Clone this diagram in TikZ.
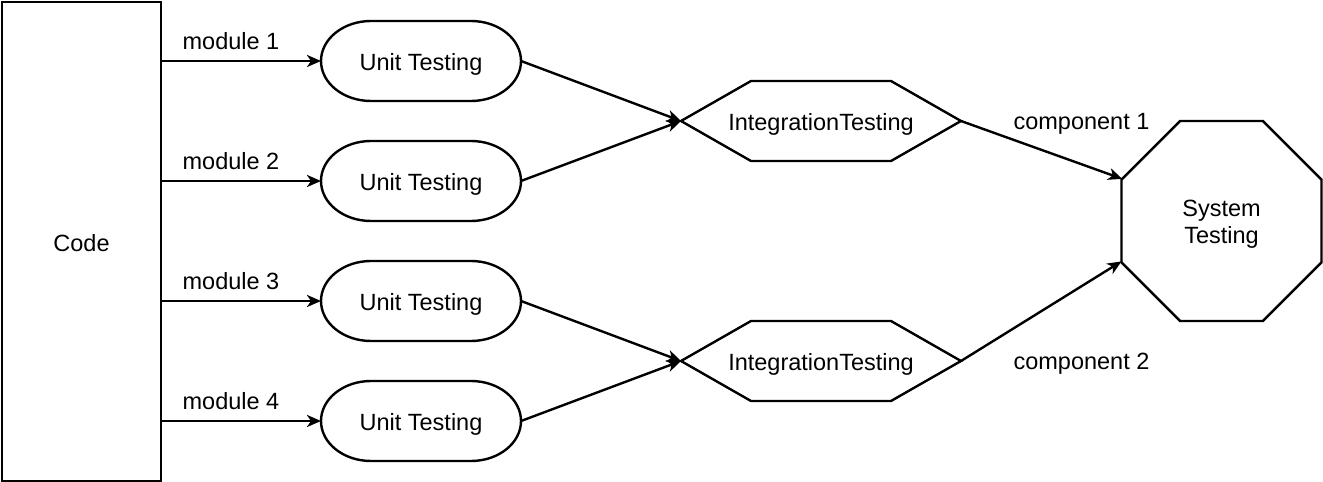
\documentclass[tikz,border=0pt]{standalone}
\usepackage{fontspec}
\setmainfont{Liberation Sans}
\usetikzlibrary{arrows.meta,shapes.geometric,calc}
\begin{document}
\begin{tikzpicture}[x=1pt,y=1pt,
  every node/.style={font=\fontsize{23.5}{27}\selectfont},
  shp/.style={draw=black,line width=2.4pt},
  box/.style={inner sep=0pt,outer sep=0pt,text height=19.9pt,text depth=0.5pt},
  conn/.style={line width=2.4pt,-{Stealth[length=14pt,width=12pt,inset=4pt]}},
  lbl/.style={anchor=base,inner sep=0pt}]
\useasboundingbox (0,0) rectangle (1323,482);
% Code block
\node[box,draw,line width=2.4pt,minimum width=159pt,minimum height=479pt] (code) at (81.5,240.5) {Code};
% Unit testing terminators
\foreach \n/\y in {1/421,2/301,3/181,4/61} {
  \node[box,minimum width=200pt,minimum height=80pt] (u\n) at (421,\y) {Unit Testing};
  \draw[shp] ([xshift=50pt]u\n.north west) -- ([xshift=-50pt]u\n.north east)
    arc[start angle=90,end angle=-90,x radius=50pt,y radius=40pt]
    -- ([xshift=50pt]u\n.south west)
    arc[start angle=270,end angle=90,x radius=50pt,y radius=40pt] -- cycle;
}
% Integration testing hexagons
\node[box,minimum width=280pt,minimum height=80pt] (i1) at (821,361) {IntegrationTesting};
\node[box,minimum width=280pt,minimum height=80pt] (i2) at (821,121) {IntegrationTesting};
\foreach \n in {i1,i2} {
  \draw[shp] (\n.west) -- ([xshift=70pt]\n.north west) -- ([xshift=-70pt]\n.north east)
    -- (\n.east) -- ([xshift=-70pt]\n.south east) -- ([xshift=70pt]\n.south west) -- cycle;
}
% System testing octagon
\node[regular polygon,regular polygon sides=8,draw,line width=2.4pt,inner sep=0pt,outer sep=0pt,minimum size=216.5pt] (sys) at (1221.5,261) {};
\node[align=center,inner sep=0pt] (systxt) at ([yshift=-3.6pt]sys.center) {System\\Testing};
% connectors
\foreach \n in {1,2,3,4} {
  \draw[conn] (code.east |- u\n.west) -- (u\n.west);
}
\draw[conn] (u1.east) -- (i1.west);
\draw[conn] (u2.east) -- (i1.west);
\draw[conn] (u3.east) -- (i2.west);
\draw[conn] (u4.east) -- (i2.west);
\draw[conn] (i1.east) -- (sys.157.5);
\draw[conn] (i2.east) -- (sys.202.5);
% labels
\node[lbl] (m1) at (231,432) {module 1};
\node[lbl] (m2) at (231,312) {module 2};
\node[lbl] (m3) at (231,192) {module 3};
\node[lbl] (m4) at (231,72) {module 4};
\node[lbl] (c1) at (1081.5,352) {component 1};
\node[lbl] (c2) at (1081.5,112) {component 2};
\end{tikzpicture}
\end{document}
